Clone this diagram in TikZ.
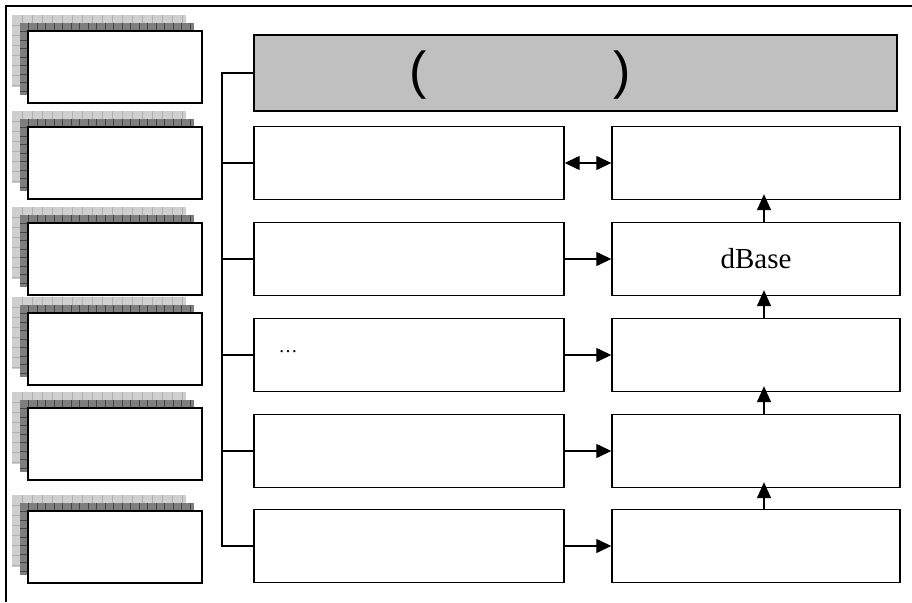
\documentclass[tikz,border=0pt]{standalone}
\usepackage{fontspec}
\setmainfont{Liberation Serif}
\newfontfamily\sansf{Liberation Sans}
\usetikzlibrary{arrows.meta}
\definecolor{lightlayer}{HTML}{CFCFCF}
\definecolor{lightline}{HTML}{B0B0B0}
\definecolor{darklayer}{HTML}{7E7E7E}
\definecolor{darkline}{HTML}{454545}
\definecolor{headgray}{HTML}{C0C0C0}
\begin{document}
\begin{tikzpicture}[x=1pt,y=-1pt,
  box/.style={draw=black,line width=1.4pt,fill=white,rectangle,inner sep=0pt,minimum height=73pt},
  leftbox/.style={box,minimum width=310pt},
  rightbox/.style={box,minimum width=288pt},
  stackbox/.style={draw=black,line width=1.2pt,fill=white,rectangle,inner sep=0pt,minimum width=174pt,minimum height=72pt},
  conn/.style={draw=black,line width=1.3pt},
  arr/.style={conn,-{Triangle[length=15pt,width=14pt]}},
  darr/.style={conn,{Triangle[length=15pt,width=14pt]}-{Triangle[length=15pt,width=14pt]}},
  uparr/.style={conn,-{Triangle[length=16pt,width=14pt]},shorten >=-6pt},
  lightgrid/.style={draw=lightline,line width=0.7pt},
  darkgrid/.style={draw=darkline,line width=0.7pt}]
\useasboundingbox (0,0) rectangle (912,602);
% outer frame (top and left only visible)
\draw[line width=2.6pt] (6,602) -- (6,6) -- (912,6);
% left stacks
\foreach \t [count=\i] in {31,127,223,313,408,511}{
  \fill[lightlayer] (12,\t-16) rectangle (186,\t+56);
  \foreach \k in {1,...,17}{\draw[lightgrid] (12+10*\k,\t-16) -- (12+10*\k,\t-8);}
  \foreach \k in {1,...,7}{\draw[lightgrid] (12,\t-16+10*\k) -- (20,\t-16+10*\k);}
  \fill[darklayer] (20,\t-8) rectangle (194,\t+64);
  \foreach \k in {1,...,20}{\draw[darkgrid] (20+8.5*\k,\t-8) -- (20+8.5*\k,\t);}
  \foreach \k in {1,...,8}{\draw[darkgrid] (20,\t-8+8.5*\k) -- (28,\t-8+8.5*\k);}
  \node[stackbox] (s\i) at (115,\t+36) {};
}
% header
\node[draw=black,line width=1.6pt,fill=headgray,rectangle,inner sep=0pt,minimum width=643pt,minimum height=76pt] (head) at (575.5,73) {};
\node[font=\sansf\fontsize{52}{56}\selectfont,inner sep=0pt] (lp) at (418,75) {(};
\node[font=\sansf\fontsize{52}{56}\selectfont,inner sep=0pt] (rp) at (622,75) {)};
% rows
\node[leftbox] (L1) at (409,163) {};
\node[leftbox] (L2) at (409,259) {};
\node[leftbox] (L3) at (409,355) {};
\node[leftbox] (L4) at (409,451) {};
\node[leftbox] (L5) at (409,546) {};
\node[rightbox] (R1) at (756,163) {};
\node[rightbox] (R2) at (756,259) {\fontsize{29}{32}\selectfont dBase};
\node[rightbox] (R3) at (756,355) {};
\node[rightbox] (R4) at (756,451) {};
\node[rightbox] (R5) at (756,546) {};
\node[inner sep=0pt,font=\fontsize{19}{22}\selectfont] (dots) at (288,352) {\ldots};
% bus
\coordinate (bt) at (222,73);
\coordinate (bb) at (222,546);
\draw[conn] (head.west) -- (bt) -- (bb) -- (L5.west);
\foreach \r in {1,2,3,4}{
  \draw[conn] (L\r.west) -- (L\r.west -| bt);
}
% horizontal arrows
\draw[darr] (L1.east) -- (R1.west);
\foreach \r in {2,3,4,5}{
  \draw[arr] (L\r.east) -- (R\r.west);
}
% vertical arrows
\foreach \a/\b in {2/1,3/2,4/3,5/4}{
  \draw[uparr] ([xshift=8pt]R\a.north) -- ([xshift=8pt]R\b.south);
}
\end{tikzpicture}
\end{document}
